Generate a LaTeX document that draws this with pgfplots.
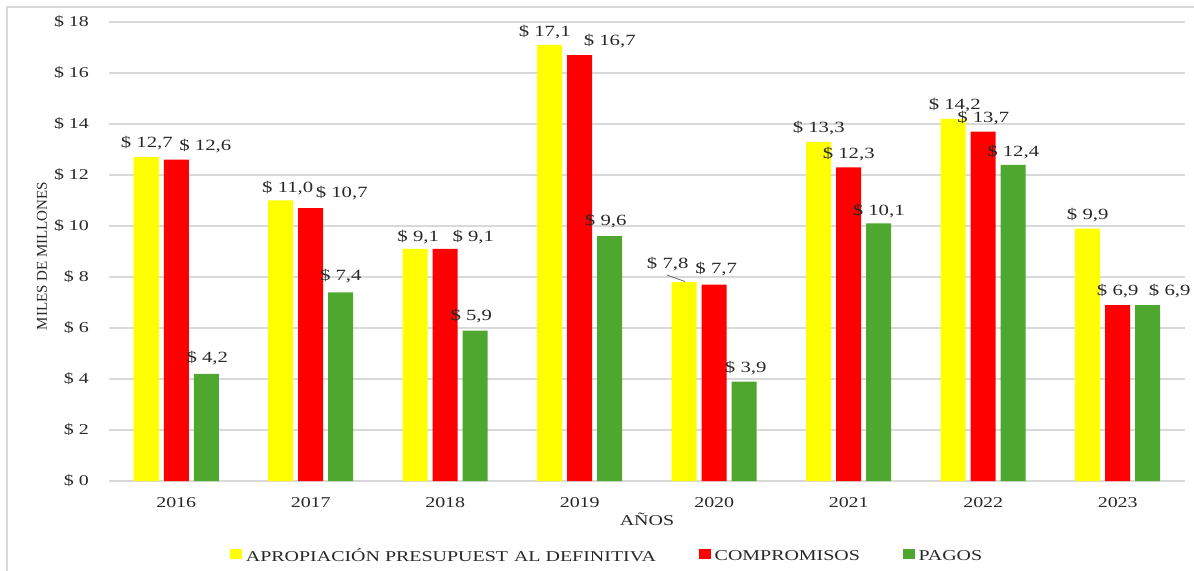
\documentclass[border=0pt]{standalone}
\usepackage{fontspec}
\setmainfont{Liberation Serif}[FakeStretch=1.33]
\newfontfamily\plainserif{Liberation Serif}
\usepackage{pgfplots}
\pgfplotsset{compat=1.18}
\usepackage{pgfplotstable}

\definecolor{cyel}{RGB}{255,255,0}
\definecolor{cred}{RGB}{255,0,0}
\definecolor{cgrn}{RGB}{78,167,46}
\definecolor{txt}{RGB}{40,40,40}
\definecolor{gridc}{RGB}{217,217,217}

\pgfplotsset{/pgf/number format/assume math mode=true}

% x = year index, y = value (miles de millones), dx/dy = label offset in pt
\pgfplotstableread{
x y dx dy
0 12.7 -14.75 7.25
1 11.0 -11.5 6.25
2 9.1 -13.5 6
3 17.1 -17.5 6.5
4 7.8 -23.25 9
5 13.3 -15 6.65
6 14.2 -14.25 7
7 9.9 -15 6.75
}\tabY
\pgfplotstableread{
x y dx dy
0 12.6 14.5 6.85
1 10.7 15.5 7.5
2 9.1 14 6
3 16.7 15 7
4 7.7 1 7.85
5 12.3 0 6.65
6 13.7 0 7
7 6.9 0 7
}\tabR
\pgfplotstableread{
x y dx dy
0 4.2 15.5 7.75
1 7.4 15 8
2 5.9 13 7.25
3 9.6 13 7.5
4 3.9 15.75 6.8
5 10.1 15 6.25
6 12.4 15 6.15
7 6.9 26 7
}\tabG

\pgfplotsset{
  mybar/.style={
    ybar, bar width=12.5pt, draw=none,
    visualization depends on={\thisrow{dx}\as\dx},
    visualization depends on={\thisrow{dy}\as\dy},
    nodes near coords={\$ \pgfmathprintnumber[fixed,fixed zerofill,precision=1,use comma]{\pgfplotspointmeta}},
    nodes near coords style={anchor=center, xshift=\dx pt, yshift=\dy pt,
      font=\fontsize{7.8}{9}\selectfont, text=txt, inner sep=0pt},
    legend image code/.code={\fill[##1] (0pt,-1pt) rectangle (6pt,4pt);},
  },
}

\begin{document}
\begin{tikzpicture}
\useasboundingbox (0,0) rectangle (597pt,-285.5pt);
\draw[gridc, line width=0.6pt] (3.5pt,-300pt) -- (3.5pt,-3.5pt) -- (620pt,-3.5pt);
\begin{axis}[
  at={(54.5pt,-240.5pt)}, anchor=south west,
  scale only axis, width=538pt, height=229.5pt,
  clip=false,
  xmin=-0.5, xmax=7.5, ymin=0, ymax=18,
  xtick={0,...,7},
  xticklabels={2016,2017,2018,2019,2020,2021,2022,2023},
  ytick={0,2,...,18},
  yticklabel={\$ \pgfmathprintnumber{\tick}},
  axis line style={draw=none},
  major tick length=0pt,
  ymajorgrids, grid style={gridc, line width=0.75pt},
  tick label style={font=\fontsize{7.5}{9}\selectfont, text=txt},
  yticklabel style={xshift=-6.5pt},
  xticklabel style={yshift=-4.5pt},
  xlabel={AÑOS},
  xlabel style={at={(axis description cs:0.5,-0.098)}, anchor=base,
    font=\fontsize{7.5}{9}\selectfont, text=txt},
  ylabel={MILES DE MILLONES},
  ylabel style={at={(axis description cs:-0.0623,0.49)}, anchor=center,
    font=\plainserif\fontsize{7.5}{9}\selectfont, text=txt},
  legend style={at={(axis description cs:0.4638,-0.1656)}, anchor=center,
    draw=none, fill=none, legend columns=3,
    /tikz/every even column/.append style={column sep=19.3pt},
    font=\fontsize{7.5}{9}\selectfont, text=txt},
  legend cell align=left,
]
\addplot[mybar, bar shift=-15pt, fill=cyel] table[x=x,y=y] {\tabY};
\addlegendentry{APROPIACIÓN PRESUPUEST\kern3pt AL DEFINITIVA}
\addplot[mybar, bar shift=0pt, fill=cred] table[x=x,y=y] {\tabR};
\addlegendentry{COMPROMISOS}
\addplot[mybar, bar shift=15pt, fill=cgrn] table[x=x,y=y] {\tabG};
\addlegendentry{PAGOS}
\draw[txt!70, line width=0.4pt] ([shift={(-23.65pt,3.55pt)}]axis cs:4,7.8) -- ([shift={(-14.65pt,0.3pt)}]axis cs:4,7.8);
\end{axis}
\end{tikzpicture}
\end{document}
